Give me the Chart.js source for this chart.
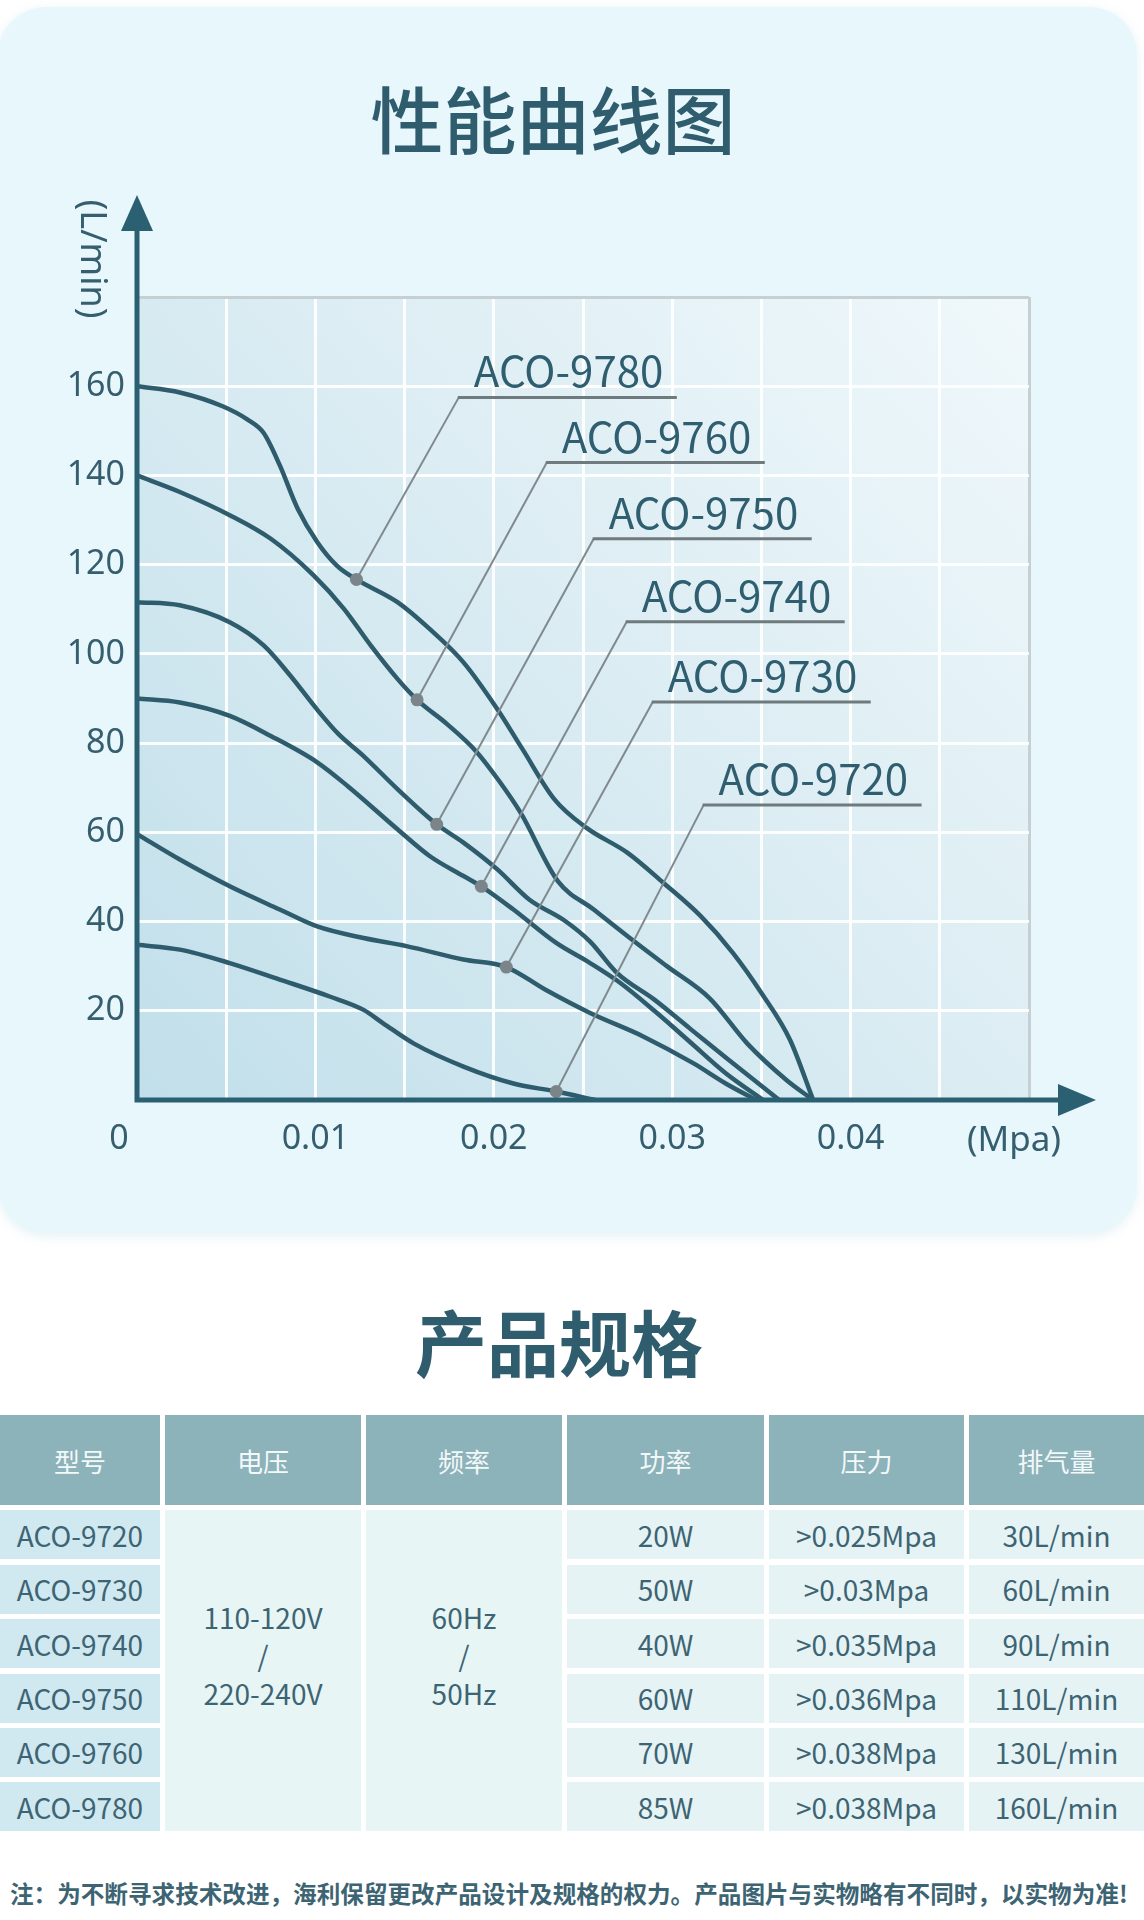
<!DOCTYPE html>
<html lang="zh">
<head>
<meta charset="utf-8">
<title>性能曲线图</title>
<script src="https://cdn.jsdelivr.net/npm/chart.js@4.4.1/dist/chart.umd.min.js"></script>
<style>
  html, body { margin: 0; padding: 0; background: #fff; }
  body { width: 1144px; height: 1920px; position: relative; overflow: hidden;
         font-family: "Noto Sans CJK SC", "Noto Sans", sans-serif; }
  .card { position: absolute; left: -2px; top: 7px; width: 1139px; height: 1226px;
          border-radius: 48px; background: #e8f7fc; box-shadow: 0 3px 12px rgba(150, 200, 215, 0.25); }
  #curveChart { position: absolute; left: 0; top: 0; }
  .title { position: absolute; left: 0; text-align: center; color: #2f5d6d; font-weight: 500; }
  .spec { position: absolute; left: 0; top: 1415px; width: 1144px; display: grid;
          grid-template-columns: 160px 196px 196px 197px 195px 175px;
          grid-template-rows: 90px repeat(6, 49px); column-gap: 5px; row-gap: 5.4px; }
  .spec div { display: flex; align-items: center; justify-content: center; color: #3d6473;
              font-size: 28px; }
  .spec .head { background: #8cb2ba; color: #f3f8f9; font-size: 26px; }
  .spec .model { background: #d0e8f0; }
  .spec .merged { grid-row: 2 / span 6; background: #e7f5f5; flex-direction: column;
                  line-height: 38px; padding-bottom: 32px; }
  .spec .cell { background: #e6f3f5; }
  .note { position: absolute; left: 10px; top: 1879px; font-size: 23.6px; font-weight: 700;
          color: #3d6473; line-height: 28px; white-space: nowrap; }
</style>
</head>
<body>
<div class="card"></div>
<div class="title" style="top:80px;width:1106px;font-size:73px;line-height:73px;">性能曲线图</div>
<canvas id="curveChart" width="1144" height="1240"></canvas>
<div class="title" style="top:1304px;width:1118px;font-size:72px;line-height:72px;font-weight:700;">产品规格</div>
<div class="spec" id="spec"></div>
<div class="note">注：为不断寻求技术改进，海利保留更改产品设计及规格的权力。产品图片与实物略有不同时，以实物为准!</div>

<script>
// Données des courbes (pression en MPa, débit en L/min)
const models = ['ACO-9780', 'ACO-9760', 'ACO-9750', 'ACO-9740', 'ACO-9730', 'ACO-9720'];

const p9780 = [0, 0.0024, 0.0048, 0.0062, 0.0071, 0.0080, 0.0090, 0.0101, 0.0112, 0.0123, 0.0146, 0.0164, 0.0183, 0.0202, 0.0216, 0.0234, 0.0252, 0.0275, 0.0295, 0.0316, 0.0334, 0.0350, 0.0366, 0.0379];
const q9780 = [160, 158.6, 155.5, 152.5, 149.5, 142.3, 132.6, 125.1, 119.8, 116.7, 111.6, 105.6, 98.1, 87.6, 78.7, 67.4, 61.0, 55.4, 48.7, 41.2, 33, 24, 13.5, 0];

const p9760 = [0, 0.0024, 0.0052, 0.0075, 0.0099, 0.0116, 0.0131, 0.0146, 0.0157, 0.0174, 0.0190, 0.0203, 0.0215, 0.0236, 0.0256, 0.0275, 0.0297, 0.0321, 0.0342, 0.0364, 0.0379];
const q9760 = [140, 136.3, 131.1, 125.8, 117.6, 110.1, 101.9, 94.4, 89.7, 84.2, 78.2, 71.5, 64.4, 49, 42.7, 36.7, 30.0, 22.8, 12.7, 4.5, 0];

const p9750 = [0, 0.0024, 0.0052, 0.0071, 0.0086, 0.0101, 0.0113, 0.0127, 0.0146, 0.0168, 0.0183, 0.0202, 0.0220, 0.0239, 0.0254, 0.0269, 0.0290, 0.0310, 0.0330, 0.0348, 0.0360];
const q9750 = [111.6, 110.9, 107.1, 101.9, 95.1, 87.5, 82, 77.1, 69.7, 61.8, 57.7, 51.7, 44.9, 40.4, 35.5, 28.5, 22.5, 16, 9.5, 3.8, 0];

const p9740 = [0, 0.0024, 0.0052, 0.0075, 0.0101, 0.0118, 0.0146, 0.0164, 0.0183, 0.0193, 0.0211, 0.0235, 0.0254, 0.0270, 0.0290, 0.0310, 0.0330, 0.0351];
const q9740 = [90, 89.1, 86.1, 81.6, 75.7, 70.4, 60.7, 54.7, 50.2, 47.9, 42.7, 35.2, 30.7, 26.5, 20, 13, 6, 0];

const p9730 = [0, 0.0024, 0.0052, 0.0080, 0.0101, 0.0127, 0.0151, 0.0183, 0.0207, 0.0229, 0.0254, 0.0284, 0.0312, 0.0330, 0.0347];
const q9730 = [59.6, 53.9, 47.9, 42.7, 38.9, 36.3, 34.5, 31.5, 29.8, 24.7, 19.5, 14.2, 8.2, 3.7, 0];

const p9720 = [0, 0.0024, 0.0052, 0.0080, 0.0108, 0.0127, 0.0138, 0.0155, 0.0183, 0.0211, 0.0235, 0.0257];
const q9720 = [34.8, 33.7, 30.7, 27, 23.2, 20.2, 17.2, 12.7, 7.5, 3.7, 1.9, 0];

// Points repérés par les étiquettes
const markerP = [0.0123, 0.0157, 0.0168, 0.0193, 0.0207, 0.0235];
const markerQ = [116.7, 89.7, 61.8, 47.9, 29.8, 1.9];

// Graduations
const xTickValues = [0.01, 0.02, 0.03, 0.04];
const xTickLabels = ['0.01', '0.02', '0.03', '0.04'];
const yTickValues = [20, 40, 60, 80, 100, 120, 140, 160];
const yTickLabels = ['20', '40', '60', '80', '100', '120', '140', '160'];

// Tableau des spécifications
const specHeaders = ['型号', '电压', '频率', '功率', '压力', '排气量'];
const specModels = ['ACO-9720', 'ACO-9730', 'ACO-9740', 'ACO-9750', 'ACO-9760', 'ACO-9780'];
const specVoltage = ['110-120V', '/', '220-240V'];
const specFrequency = ['60Hz', '/', '50Hz'];
const specPower = ['20W', '50W', '40W', '60W', '70W', '85W'];
const specPressure = ['>0.025Mpa', '>0.03Mpa', '>0.035Mpa', '>0.036Mpa', '>0.038Mpa', '>0.038Mpa'];
const specFlow = ['30L/min', '60L/min', '90L/min', '110L/min', '130L/min', '160L/min'];

// Position des étiquettes (unités des axes) : début du trait souligné
const callouts = [[0.01804, 157.5], [0.02297, 142.9], [0.02560, 125.8], [0.02745, 107.2], [0.02891, 89.2], [0.03176, 66.1]];

const lineColor = '#2e5c6c';
const axisColor = '#2b6072';
const tickColor = '#355e6e';

function pts(p, q) {
  return p.map((v, i) => ({ x: v, y: q[i] }));
}

const curveSets = [[p9780, q9780], [p9760, q9760], [p9750, q9750], [p9740, q9740], [p9730, q9730], [p9720, q9720]];

const datasets = curveSets.map((s, i) => ({
  label: models[i],
  data: pts(s[0], s[1]),
  borderColor: lineColor,
  borderWidth: 4.5,
  pointRadius: 0,
  cubicInterpolationMode: 'monotone',
  fill: false,
  order: 1
}));

datasets.push({
  label: 'markers',
  data: pts(markerP, markerQ),
  showLine: false,
  pointRadius: 6.5,
  pointBackgroundColor: '#7b8589',
  pointBorderWidth: 0,
  order: 0
});
const markerIndex = datasets.length - 1;

// Fond dégradé de la zone du graphique
const panelPlugin = {
  id: 'panel',
  beforeDraw(chart) {
    const { ctx, chartArea: a } = chart;
    const g = ctx.createLinearGradient(a.left, a.bottom, a.right, a.top);
    g.addColorStop(0, '#c1dfea');
    g.addColorStop(0.55, '#dcedf3');
    g.addColorStop(1, '#f0f8fb');
    ctx.save();
    ctx.fillStyle = g;
    ctx.fillRect(a.left, a.top, a.right - a.left, a.bottom - a.top);
    ctx.restore();
  }
};

// Traits de rappel + noms des modèles
const calloutPlugin = {
  id: 'callouts',
  beforeDatasetDraw(chart, args) {
    if (args.index !== markerIndex) return;
    const { ctx, scales } = chart;
    ctx.save();
    for (let i = 0; i < models.length; i++) {
      const mx = scales.x.getPixelForValue(markerP[i]);
      const my = scales.y.getPixelForValue(markerQ[i]);
      const ax = scales.x.getPixelForValue(callouts[i][0]);
      const ay = scales.y.getPixelForValue(callouts[i][1]);
      ctx.strokeStyle = '#808a8e';
      ctx.lineWidth = 2;
      ctx.beginPath();
      ctx.moveTo(mx, my);
      ctx.lineTo(ax, ay);
      ctx.stroke();
      ctx.strokeStyle = '#6f7a7e';
      ctx.lineWidth = 3;
      ctx.beginPath();
      ctx.moveTo(ax - 1, ay);
      ctx.lineTo(ax + 218, ay);
      ctx.stroke();
      ctx.fillStyle = '#2e5e6f';
      ctx.font = '42px "Noto Sans CJK SC"';
      ctx.textAlign = 'left';
      ctx.textBaseline = 'alphabetic';
      ctx.fillText(models[i], ax + 15, ay - 10);
    }
    ctx.restore();
  }
};

// Axes avec flèches et unités
const axesPlugin = {
  id: 'arrowAxes',
  afterDatasetsDraw(chart) {
    const { ctx, chartArea: a } = chart;
    ctx.save();
    ctx.strokeStyle = axisColor;
    ctx.fillStyle = axisColor;
    ctx.lineWidth = 5;
    ctx.beginPath();
    ctx.moveTo(a.left, a.bottom + 2.5);
    ctx.lineTo(a.left, 226);
    ctx.moveTo(a.left - 2.5, a.bottom);
    ctx.lineTo(1062, a.bottom);
    ctx.stroke();
    ctx.beginPath();
    ctx.moveTo(a.left, 195);
    ctx.lineTo(a.left + 16, 231);
    ctx.lineTo(a.left - 16, 231);
    ctx.closePath();
    ctx.fill();
    ctx.beginPath();
    ctx.moveTo(1096, a.bottom);
    ctx.lineTo(1058, a.bottom - 16);
    ctx.lineTo(1058, a.bottom + 16);
    ctx.closePath();
    ctx.fill();

    ctx.fillStyle = tickColor;
    ctx.textAlign = 'center';
    ctx.textBaseline = 'middle';
    ctx.font = '34px "Noto Sans"';
    ctx.fillText('0', 119, 1139);
    ctx.font = '35px "Noto Sans"';
    ctx.fillText('(Mpa)', 1014, 1141);
    ctx.translate(91, 259);
    ctx.rotate(Math.PI / 2);
    ctx.font = '36px "Noto Sans"';
    ctx.fillText('(L/min)', 0, 0);
    ctx.restore();
  }
};

const gridColor = (edge) => (c) => {
  const v = c.tick ? c.tick.value : null;
  return v !== null && Math.abs(v - edge) < 1e-9 ? '#c6cfd2' : 'rgba(255,255,255,0.9)';
};

const ctx = document.getElementById('curveChart').getContext('2d');
const curveChart = new Chart(ctx, {
  type: 'line',
  data: { datasets: datasets },
  options: {
    responsive: false,
    animation: false,
    events: [],
    layout: { padding: { top: 297, right: 115, left: 0, bottom: 70 } },
    plugins: { legend: { display: false }, tooltip: { enabled: false } },
    scales: {
      x: {
        type: 'linear',
        min: 0,
        max: 0.05,
        afterFit: (s) => { s.height = 70; },
        border: { display: false },
        grid: { color: gridColor(0.05), lineWidth: 3, drawTicks: false },
        ticks: {
          stepSize: 0.005,
          autoSkip: false,
          maxRotation: 0,
          padding: 19,
          color: tickColor,
          font: { family: 'Noto Sans', size: 34 },
          callback: (v) => {
            const k = xTickValues.findIndex(t => Math.abs(t - v) < 1e-9);
            return k >= 0 ? xTickLabels[k] : '';
          }
        }
      },
      y: {
        type: 'linear',
        min: 0,
        max: 180,
        afterFit: (s) => { s.width = 137; },
        border: { display: false },
        grid: { color: gridColor(180), lineWidth: 3, drawTicks: false },
        ticks: {
          stepSize: 20,
          autoSkip: false,
          padding: 12,
          color: tickColor,
          font: { family: 'Noto Sans', size: 34 },
          callback: (v) => {
            const k = yTickValues.indexOf(v);
            return k >= 0 ? yTickLabels[k] : '';
          }
        }
      }
    }
  },
  plugins: [panelPlugin, calloutPlugin, axesPlugin]
});

// Construction du tableau
const spec = document.getElementById('spec');
function addCell(cls, html, style) {
  const d = document.createElement('div');
  d.className = cls;
  d.innerHTML = html;
  if (style) d.style.cssText = style;
  spec.appendChild(d);
}
specHeaders.forEach(h => addCell('head', h));
for (let r = 0; r < specModels.length; r++) {
  addCell('model', specModels[r], 'grid-column:1;grid-row:' + (r + 2));
  addCell('cell', specPower[r], 'grid-column:4;grid-row:' + (r + 2));
  addCell('cell', specPressure[r], 'grid-column:5;grid-row:' + (r + 2));
  addCell('cell', specFlow[r], 'grid-column:6;grid-row:' + (r + 2));
}
addCell('merged', specVoltage.map(s => '<span>' + s + '</span>').join(''), 'grid-column:2');
addCell('merged', specFrequency.map(s => '<span>' + s + '</span>').join(''), 'grid-column:3');
</script>
</body>
</html>
